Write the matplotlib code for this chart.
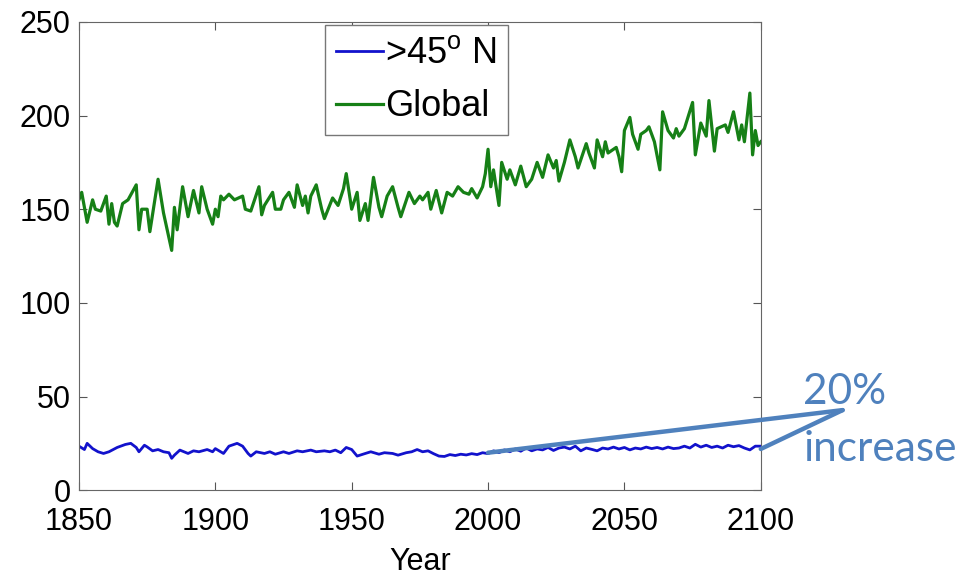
import matplotlib

matplotlib.use("Agg")
import matplotlib.pyplot as plt

# Global series (years and values)
global_years = [
    1850, 1851, 1853, 1855, 1856, 1858, 1860, 1861, 1862, 1863, 1864, 1866, 1868,
    1871, 1872, 1873, 1875, 1876, 1879, 1881, 1884, 1885, 1886, 1888, 1890, 1892,
    1894, 1895, 1897, 1899, 1900, 1901, 1902, 1903, 1905, 1907, 1910, 1911, 1913,
    1916, 1917, 1918, 1921, 1922, 1924, 1925, 1927, 1929, 1930, 1932, 1933, 1934,
    1935, 1937, 1939, 1940, 1943, 1945, 1947, 1948, 1950, 1952, 1953, 1955, 1956,
    1958, 1960, 1961, 1963, 1965, 1967, 1968, 1971, 1973, 1975, 1976, 1978, 1979,
    1981, 1983, 1985, 1987, 1989, 1991, 1993, 1994, 1996, 1998, 1999, 2000, 2001,
    2002, 2004, 2005, 2007, 2008, 2010, 2012, 2014, 2016, 2018, 2020, 2022, 2024,
    2025, 2026, 2028, 2030, 2032, 2033, 2036, 2037, 2039, 2040, 2042, 2043, 2044,
    2047, 2048, 2049, 2050, 2052, 2053, 2055, 2056, 2058, 2059, 2061, 2063, 2064,
    2066, 2068, 2069, 2070, 2072, 2075, 2076, 2078, 2080, 2081, 2083, 2084, 2087,
    2088, 2090, 2092, 2093, 2094, 2096, 2097, 2098, 2099, 2100,
]
global_values = [
    155, 159, 143, 155, 150, 149, 157, 142, 153, 143, 141, 153, 155,
    163, 139, 150, 150, 138, 166, 148, 128, 151, 139, 162, 146, 160,
    148, 162, 150, 142, 150, 146, 157, 155, 158, 155, 157, 150, 149,
    162, 147, 152, 159, 150, 150, 155, 159, 151, 163, 152, 157, 148,
    157, 163, 150, 145, 156, 152, 161, 169, 150, 159, 144, 153, 144,
    167, 151, 146, 157, 162, 151, 146, 159, 153, 157, 155, 159, 150,
    160, 148, 159, 157, 162, 159, 158, 161, 156, 162, 169, 182, 162,
    171, 152, 175, 166, 171, 163, 173, 162, 166, 175, 167, 179, 172,
    176, 165, 175, 187, 178, 172, 185, 180, 172, 187, 178, 186, 180,
    183, 178, 170, 192, 199, 190, 182, 190, 192, 194, 186, 171, 202,
    192, 188, 193, 189, 193, 207, 179, 196, 189, 208, 181, 193, 195,
    191, 202, 187, 195, 186, 212, 179, 192, 184, 186,
]

# >45N series
north_years = [
    1850, 1852, 1853, 1855, 1857, 1859, 1861, 1864, 1867, 1869, 1871, 1872, 1874,
    1875, 1877, 1879, 1881, 1883, 1884, 1885, 1887, 1890, 1892, 1894, 1897, 1899,
    1900, 1903, 1905, 1908, 1910, 1912, 1913, 1915, 1918, 1920, 1922, 1925, 1927,
    1930, 1932, 1935, 1937, 1940, 1942, 1944, 1946, 1948, 1950, 1952, 1955, 1957,
    1960, 1962, 1965, 1967, 1970, 1972, 1974, 1976, 1978, 1980, 1982, 1984, 1986,
    1988, 1990, 1992, 1994, 1996, 1998, 2000, 2002, 2004, 2006, 2008, 2010, 2012,
    2014, 2016, 2018, 2020, 2022, 2024, 2026, 2028, 2030, 2032, 2034, 2036, 2038,
    2040, 2042, 2044, 2046, 2048, 2050, 2052, 2054, 2056, 2058, 2060, 2062, 2064,
    2066, 2068, 2070, 2072, 2074, 2076, 2078, 2080, 2082, 2084, 2086, 2088, 2090,
    2092, 2094, 2096, 2098, 2100,
]
north_values = [
    23.5, 21.7, 25, 22.2, 20.5, 19.6, 20.5, 22.8, 24.4, 25, 22.8, 20.5, 24,
    23.1, 21, 21.7, 20.5, 20, 17, 18.7, 21.4, 19.6, 21, 20.5, 21.7, 20.5,
    22.2, 19.6, 23.5, 25, 23.5, 19.6, 18.2, 20.5, 19.6, 20.5, 19.2, 20.5, 19.6,
    21, 20.5, 21.4, 20.5, 21, 20.5, 21.4, 20, 22.8, 21.7, 18.2, 19.6, 20.5,
    19.2, 20, 19.6, 18.7, 20, 20.5, 21.7, 20.5, 21, 19.5, 18.2, 18, 19,
    18.5, 19.2, 18.8, 19.5, 19, 20, 19.5, 21, 20, 21.5, 20.5, 22, 20.8,
    22.5, 21, 22, 21.5, 22.8, 21.2, 22.5, 23, 22, 23.5, 21, 22.5, 21.8,
    21, 22.5, 22, 23, 22, 22.8, 21.5, 22.5, 22, 23, 22.2, 22.8, 22,
    23, 22.2, 22.5, 23.5, 22.5, 24.5, 23, 24, 22.8, 23.5, 22.5, 24, 23.2,
    23.8, 22.5, 21.5, 23.5, 23.5,
]

x_ticks = [1850, 1900, 1950, 2000, 2050, 2100]
y_ticks = [0, 50, 100, 150, 200, 250]
increase_points = [(2000, 20), (2100, 22)]

plt.rcParams["font.family"] = ["Liberation Sans", "DejaVu Sans"]
plt.rcParams["mathtext.fontset"] = "custom"
plt.rcParams["mathtext.rm"] = "Liberation Sans"

fig = plt.figure(figsize=(9.63, 5.76), dpi=100)
ax = fig.add_axes([0.082, 0.149, 0.708, 0.813])

ax.plot(north_years, north_values, color="#1212cc", lw=2.0, label=r">45$^{\rm o}$ N")
ax.plot(global_years, global_values, color="#168016", lw=2.3, label="Global")

ax.set_xlim(1850, 2100)
ax.set_ylim(0, 250)
ax.set_xticks(x_ticks)
ax.set_yticks(y_ticks)
ax.tick_params(direction="in", length=6, top=True, right=True, labelsize=22,
               color="#555555")
ax.tick_params(axis="x", pad=12)
ax.tick_params(axis="y", pad=6)
for spine in ax.spines.values():
    spine.set_color("#666666")
ax.set_xlabel("Year", fontsize=22, labelpad=7)

leg = ax.legend(loc="upper center", bbox_to_anchor=(0.495, 1.0), fontsize=26,
                fancybox=False, framealpha=1, edgecolor="#777777",
                handlelength=1.3, handletextpad=0.08, borderpad=0.3,
                labelspacing=0.5, borderaxespad=0.1)
leg.get_frame().set_linewidth(1.0)

# "20% increase" call-out drawn outside the axes
vertex = (0.875, 0.288)
for pt in increase_points:
    ax.annotate("", xy=pt, xytext=vertex, textcoords="figure fraction",
                annotation_clip=False,
                arrowprops=dict(arrowstyle="-", color="#4f81bd", lw=3.2,
                                shrinkA=0, shrinkB=0))
fig.text(0.834, 0.2986, "20%", fontsize=30.5, color="#4f81bd", family="Lato",
         va="baseline")
fig.text(0.834, 0.1997, "increase", fontsize=30.5, color="#4f81bd", family="Lato",
         va="baseline")

fig.savefig("out.png", dpi=100)
